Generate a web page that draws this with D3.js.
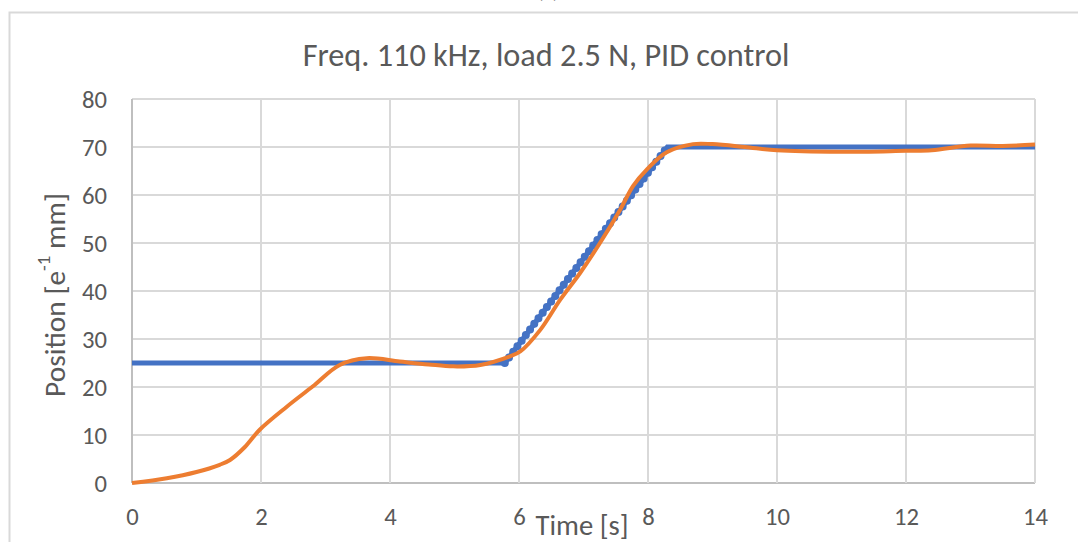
<!DOCTYPE html>
<html><head><meta charset="utf-8">
<script src="https://cdn.jsdelivr.net/npm/d3@7"></script>
<style>
html,body{margin:0;padding:0;background:#fff;}
svg{display:block;}
text{font-family:Carlito,"Open Sans",sans-serif;fill:#595959;}
</style></head><body>
<svg id="c" width="1078" height="542"></svg>
<script>
// ---- data ----
const chartTitle = "Freq. 110 kHz, load 2.5 N, PID control";
const xTicks = [0, 2, 4, 6, 8, 10, 12, 14];
const yTicks = [0, 10, 20, 30, 40, 50, 60, 70, 80];
// setpoint (blue)
const setTime = [0, 5.78, 8.3, 14];
const setPos  = [25, 25, 70, 70];
// measured position (orange)
const posTime = [0, 0.54, 1.0, 1.36, 1.52, 1.75, 1.98, 2.4, 2.8, 3.22, 3.64, 4.15, 4.6, 4.98, 5.4, 5.86, 6.02, 6.33, 6.64, 6.95, 7.26, 7.57, 7.77, 7.98, 8.29, 8.7, 9.0, 9.5, 10.0, 10.98, 12.0, 12.4, 13.0, 13.5, 14.0];
const posVal  = [0, 1.0, 2.3, 3.8, 4.8, 7.5, 11.1, 15.9, 20.1, 24.6, 26.0, 25.3, 24.7, 24.3, 24.6, 26.4, 27.4, 31.9, 38.2, 43.8, 50.1, 57.0, 61.9, 65.3, 68.9, 70.6, 70.6, 70.0, 69.3, 69.0, 69.2, 69.3, 70.3, 70.2, 70.5];

const svg = d3.select("#c");
const W = 1078, H = 542;
const m = {l:132, r:1035, t:99, b:483};
const x = d3.scaleLinear().domain([0,14]).range([m.l, m.r]);
const y = d3.scaleLinear().domain([0,80]).range([m.b, m.t]);

// helper: scale font size so that text width hits a target
function fitSize(sel, target){
  const n = sel.node();
  const s = parseFloat(sel.attr("font-size"));
  const w = n.getComputedTextLength();
  const ns = s*target/w;
  sel.attr("font-size", ns);
  return ns;
}

// outer chart border
svg.append("rect").attr("x",9.5).attr("y",12.5).attr("width",W+20).attr("height",H+20)
  .attr("fill","none").attr("stroke","#d9d9d9").attr("stroke-width",2);

// "(a)" label partially cut at top (as in the reference)
svg.append("text").attr("x",548).attr("y",-2).attr("text-anchor","middle")
  .attr("font-size",20).text("(a)");

// gridlines
const grid = svg.append("g");
grid.selectAll("line.h").data(yTicks).join("line")
  .attr("x1",m.l).attr("x2",m.r).attr("y1",d=>y(d)).attr("y2",d=>y(d))
  .attr("stroke",d=>d===0?"#bfbfbf":"#d9d9d9").attr("stroke-width",2);
grid.selectAll("line.v").data(xTicks).join("line")
  .attr("y1",m.t).attr("y2",m.b).attr("x1",d=>x(d)).attr("x2",d=>x(d))
  .attr("stroke",d=>d===0?"#bfbfbf":"#d9d9d9").attr("stroke-width",2);

// tick font size from reference width of "80" (~25px)
const probe = svg.append("text").attr("font-size",20).text("80");
const tickFs = fitSize(probe, 25);
probe.remove();

const xAxis = svg.append("g").attr("transform",`translate(0,${m.b})`)
  .call(d3.axisBottom(x).tickValues(xTicks).tickSize(0).tickPadding(0));
const yAxis = svg.append("g").attr("transform",`translate(107,0)`)
  .call(d3.axisLeft(y).tickValues(yTicks).tickSize(0).tickPadding(0));
[xAxis,yAxis].forEach(a=>{
  a.select(".domain").remove();
  a.selectAll("text").attr("font-size",tickFs).attr("fill","#595959")
    .style("font-family","Carlito,'Open Sans',sans-serif");
});
xAxis.selectAll("text").attr("dy",null).attr("y",34).attr("dominant-baseline","central");
yAxis.selectAll("text").attr("dy",null).attr("x",0).attr("dominant-baseline","central");

// lines
const setData = setTime.map((t,i)=>({t, v:setPos[i]}));
const posData = posTime.map((t,i)=>({t, v:posVal[i]}));
const line = d3.line().x(d=>x(d.t)).y(d=>y(d.v));
svg.append("path").attr("d",line(setData)).attr("fill","none")
  .attr("stroke","#4472C4").attr("stroke-width",5);
// dotted staircase look on ramp
svg.append("path").attr("d",line(setData.slice(1,3))).attr("fill","none")
  .attr("stroke","#4472C4").attr("stroke-width",8).attr("stroke-linecap","round")
  .attr("stroke-dasharray","0,7");
svg.append("path").attr("d",d3.line().curve(d3.curveCatmullRom.alpha(0.5)).x(d=>x(d.t)).y(d=>y(d.v))(posData))
  .attr("fill","none").attr("stroke","#ED7D31").attr("stroke-width",4).attr("stroke-linejoin","round");

// title
const tt = svg.append("text").attr("x",546).attr("y",55).attr("text-anchor","middle")
  .attr("dominant-baseline","central").attr("font-size",25).text(chartTitle);
fitSize(tt, 487);

// x axis title
const xt = svg.append("text").attr("x",582).attr("y",525).attr("text-anchor","middle")
  .attr("dominant-baseline","central").attr("font-size",22).text("Time [s]");
fitSize(xt, 93);

// y axis title with superscript
const yt = svg.append("text").attr("transform","translate(55,295) rotate(-90)")
  .attr("text-anchor","middle").attr("dominant-baseline","central").attr("font-size",22);
const t1 = yt.append("tspan").text("Position [e");
const t2 = yt.append("tspan").attr("font-size",14).attr("dy",-9).text("-1");
const t3 = yt.append("tspan").attr("dy",9).text(" mm]");
{
  const w = yt.node().getComputedTextLength();
  const k = 204/w;
  yt.attr("font-size",22*k);
  t2.attr("font-size",14*k).attr("dy",-9*k);
  t3.attr("dy",9*k);
}
</script>
</body></html>
